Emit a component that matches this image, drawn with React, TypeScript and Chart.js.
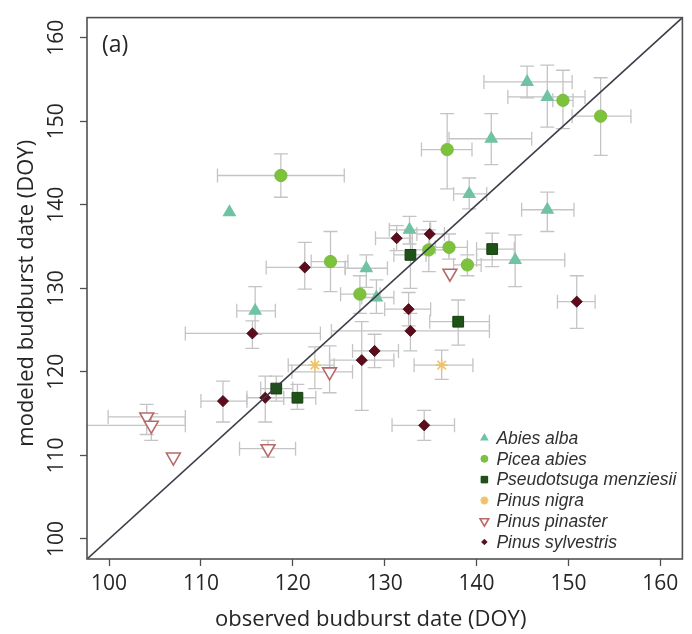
import React, { useEffect, useRef } from 'react';
import { Chart, registerables } from 'chart.js';
import { drawPoint } from 'chart.js/helpers';

Chart.register(...registerables);

const axisMin = 97.6;
const axisMax = 162.4;
const tickValues = [100, 110, 120, 130, 140, 150, 160];
const xTitle = 'observed budburst date (DOY)';
const yTitle = 'modeled budburst date (DOY)';
const panelLabel = '(a)';

// each row: [observed, modeled, observedLow, observedHigh, modeledLow, modeledHigh]
const abiesAlba = [
  [113.1, 139.1, 113.1, 113.1, 139.1, 139.1],
  [145.5, 154.7, 140.8, 150.4, 152.8, 156.6],
  [147.7, 152.9, 143.4, 151.8, 149.3, 156.7],
  [141.6, 147.9, 137.0, 146.0, 144.8, 150.9],
  [139.2, 141.3, 137.5, 141.1, 139.5, 143.2],
  [147.7, 139.4, 144.9, 150.6, 136.8, 141.5],
  [132.7, 137.0, 130.5, 135.0, 135.3, 138.6],
  [144.2, 133.4, 140.0, 149.6, 130.2, 136.4],
  [128.0, 132.4, 125.7, 130.3, 130.1, 134.0],
  [129.1, 128.9, 127.5, 131.0, 127.0, 131.0],
  [115.9, 127.3, 113.9, 118.1, 124.5, 130.2],
];
const piceaAbies = [
  [118.7, 143.5, 111.8, 125.6, 140.9, 146.1],
  [149.4, 152.5, 148.3, 150.5, 149.1, 156.1],
  [153.5, 150.6, 150.4, 156.8, 145.9, 155.2],
  [136.8, 146.6, 134.0, 139.5, 141.9, 150.9],
  [134.8, 134.6, 133.0, 137.0, 132.0, 137.0],
  [137.0, 134.9, 135.5, 139.0, 133.5, 136.5],
  [139.0, 132.8, 137.5, 140.5, 131.5, 134.0],
  [124.1, 133.2, 122.0, 126.0, 129.6, 136.8],
  [127.3, 129.3, 125.2, 129.5, 127.0, 131.5],
];
const pseudotsugaMenziesii = [
  [132.8, 134.0, 131.0, 134.5, 130.0, 137.0],
  [141.7, 134.7, 140.0, 144.1, 132.6, 136.6],
  [138.0, 126.0, 134.9, 141.4, 123.2, 128.6],
  [118.2, 118.0, 116.5, 120.0, 116.5, 119.5],
  [120.5, 116.9, 119.0, 122.5, 115.5, 118.5],
];
const pinusNigra = [
  [122.4, 120.8, 119.5, 124.5, 118.0, 123.0],
  [136.2, 120.8, 133.2, 139.6, 119.1, 122.6],
];
const pinusPinaster = [
  [137.1, 131.8, 137.1, 137.1, 131.8, 131.8],
  [124.0, 120.0, 119.9, 126.5, 117.5, 123.1],
  [104.1, 114.6, 99.9, 108.3, 112.5, 116.1],
  [104.6, 113.6, 95.0, 108.3, 111.8, 115.0],
  [107.0, 109.8, 107.0, 107.0, 109.8, 109.8],
  [117.3, 110.8, 114.2, 120.3, 109.8, 111.8],
];
const pinusSylvestris = [
  [131.3, 136.0, 129.0, 133.0, 134.5, 137.5],
  [134.9, 136.5, 133.5, 136.5, 135.0, 138.0],
  [121.3, 132.5, 117.1, 125.7, 129.9, 135.5],
  [150.9, 128.4, 148.8, 152.9, 125.2, 131.5],
  [132.6, 127.5, 130.0, 135.0, 125.5, 129.5],
  [132.8, 124.9, 124.2, 141.4, 122.5, 127.0],
  [128.9, 122.5, 126.5, 131.5, 120.5, 124.5],
  [127.5, 121.4, 124.0, 131.0, 115.4, 126.0],
  [115.6, 124.6, 108.3, 123.0, 122.8, 126.1],
  [117.0, 116.9, 115.0, 119.0, 114.0, 119.5],
  [112.4, 116.5, 110.0, 115.0, 114.0, 118.9],
  [134.3, 113.6, 130.8, 137.6, 111.8, 115.4],
];

const species = [
  { name: 'Abies alba', rows: abiesAlba, style: 'triangle', rot: 0, r: 8, fill: '#6fc3a2', stroke: '#6fc3a2', bw: 0, lr: 5 },
  { name: 'Picea abies', rows: piceaAbies, style: 'circle', rot: 0, r: 6.2, fill: '#7cc23c', stroke: '#74b836', bw: 0.8, lr: 3.5 },
  { name: 'Pseudotsuga menziesii', rows: pseudotsugaMenziesii, style: 'rect', rot: 0, r: 7.6, fill: '#1f5217', stroke: '#163d10', bw: 1, lr: 4.6 },
  { name: 'Pinus nigra', rows: pinusNigra, style: 'star', rot: 0, r: 6, fill: 'rgba(0,0,0,0)', stroke: '#f0c36a', bw: 1.6, lr: 4 },
  { name: 'Pinus pinaster', rows: pinusPinaster, style: 'triangle', rot: 180, r: 8, fill: '#ffffff', stroke: '#b86a6a', bw: 1.6, lr: 5 },
  { name: 'Pinus sylvestris', rows: pinusSylvestris, style: 'rectRot', rot: 0, r: 5.6, fill: '#5e0b1c', stroke: '#3e0610', bw: 0.8, lr: 2.8 },
];

const FONT = "'Open Sans', 'DejaVu Sans', sans-serif";
const TEXT = '#262626';

const errorBarPlugin = {
  id: 'errorBars',
  beforeDatasetsDraw(chart: any) {
    const { ctx, chartArea, scales } = chart;
    const xs = scales.x;
    const ys = scales.y;
    const cap = 7;
    ctx.save();
    ctx.beginPath();
    ctx.rect(chartArea.left, chartArea.top, chartArea.right - chartArea.left, chartArea.bottom - chartArea.top);
    ctx.clip();
    ctx.strokeStyle = '#c4c4c4';
    ctx.lineWidth = 1.3;
    species.forEach((sp) => {
      sp.rows.forEach((row) => {
        const [x, y, xl, xh, yl, yh] = row;
        const px = xs.getPixelForValue(x);
        const py = ys.getPixelForValue(y);
        ctx.beginPath();
        if (xh > xl) {
          const a = xs.getPixelForValue(xl);
          const b = xs.getPixelForValue(xh);
          ctx.moveTo(a, py); ctx.lineTo(b, py);
          ctx.moveTo(a, py - cap); ctx.lineTo(a, py + cap);
          ctx.moveTo(b, py - cap); ctx.lineTo(b, py + cap);
        }
        if (yh > yl) {
          const a = ys.getPixelForValue(yl);
          const b = ys.getPixelForValue(yh);
          ctx.moveTo(px, a); ctx.lineTo(px, b);
          ctx.moveTo(px - cap, a); ctx.lineTo(px + cap, a);
          ctx.moveTo(px - cap, b); ctx.lineTo(px + cap, b);
        }
        ctx.stroke();
      });
    });
    ctx.restore();
  },
};

const decorPlugin = {
  id: 'decor',
  afterDraw(chart: any) {
    const { ctx, chartArea } = chart;
    const { left, right, top, bottom } = chartArea;
    ctx.save();
    // frame
    ctx.strokeStyle = '#505050';
    ctx.lineWidth = 1.6;
    ctx.strokeRect(left, top, right - left, bottom - top);
    // panel label
    ctx.fillStyle = TEXT;
    ctx.font = `23px ${FONT}`;
    ctx.textAlign = 'left';
    ctx.textBaseline = 'alphabetic';
    ctx.fillText(panelLabel, left + 15, top + 34);
    // axis titles
    ctx.font = `22px ${FONT}`;
    ctx.textAlign = 'center';
    ctx.fillText(xTitle, (left + right) / 2 - 14, bottom + 67);
    ctx.save();
    ctx.translate(33, (top + bottom) / 2 + 5);
    ctx.rotate(-Math.PI / 2);
    ctx.fillText(yTitle, 0, 0);
    ctx.restore();
    // legend
    const rowH = 20.8;
    const mx = right - 198;
    const tx = right - 186;
    ctx.font = `italic 17.5px 'Liberation Sans', Arial, sans-serif`;
    ctx.textAlign = 'left';
    ctx.textBaseline = 'middle';
    species.forEach((sp, i) => {
      const yy = bottom - 17 - (species.length - 1 - i) * rowH;
      ctx.fillStyle = sp.fill;
      ctx.strokeStyle = sp.stroke;
      ctx.lineWidth = sp.style === 'star' ? 2.2 : sp.bw;
      drawPoint(ctx, { pointStyle: sp.style, rotation: sp.rot, radius: sp.lr, borderWidth: sp.style === 'star' ? 2.2 : sp.bw }, mx, yy);
      ctx.fillStyle = '#303030';
      ctx.fillText(sp.name, tx, yy + 1);
    });
    ctx.restore();
  },
};

export default function App() {
  const ref = useRef<HTMLCanvasElement | null>(null);
  useEffect(() => {
    if (!ref.current) return;
    const datasets: any[] = [
      {
        type: 'line',
        label: '1:1',
        data: [{ x: axisMin, y: axisMin }, { x: axisMax, y: axisMax }],
        borderColor: '#3c3c4a',
        borderWidth: 1.6,
        pointRadius: 0,
        fill: false,
        order: 0,
      },
      ...species.map((sp) => ({
        type: 'scatter',
        label: sp.name,
        data: sp.rows.map((r) => ({ x: r[0], y: r[1] })),
        pointStyle: sp.style,
        rotation: sp.rot,
        pointRadius: sp.r,
        pointBackgroundColor: sp.fill,
        pointBorderColor: sp.stroke,
        pointBorderWidth: sp.bw,
        order: 1,
      })),
    ];
    const tickFont = { family: FONT, size: 21 };
    const chart = new Chart(ref.current, {
      type: 'scatter',
      data: { datasets },
      options: {
        animation: false,
        responsive: false,
        layout: { padding: { left: 0, top: 10, right: 6, bottom: 0 } },
        plugins: { legend: { display: false }, tooltip: { enabled: false } },
        scales: {
          x: {
            type: 'linear',
            min: axisMin,
            max: axisMax,
            afterBuildTicks: (s: any) => { s.ticks = tickValues.map((v) => ({ value: v })); },
            afterFit: (s: any) => { s.height = 75; },
            ticks: { color: TEXT, font: tickFont, padding: 5, maxRotation: 0, callback: (v: any) => String(v) },
            grid: { drawOnChartArea: false, drawTicks: true, tickLength: 7, tickColor: '#505050', tickWidth: 1.3 },
            border: { display: false },
          },
          y: {
            type: 'linear',
            min: axisMin,
            max: axisMax,
            afterBuildTicks: (s: any) => { s.ticks = tickValues.map((v) => ({ value: v })); },
            afterFit: (s: any) => { s.width = 87; },
            ticks: { color: TEXT, font: tickFont, padding: 5, minRotation: 90, maxRotation: 90, crossAlign: 'center', callback: (v: any) => String(v) },
            grid: { drawOnChartArea: false, drawTicks: true, tickLength: 7, tickColor: '#505050', tickWidth: 1.3 },
            border: { display: false },
          },
        },
      },
      plugins: [errorBarPlugin, decorPlugin],
    } as any);
    return () => chart.destroy();
  }, []);
  return (
    <div style={{ position: 'absolute', left: 0, top: 0, width: 692, height: 634, background: '#ffffff' }}>
      <canvas ref={ref} width={692} height={634} />
    </div>
  );
}
